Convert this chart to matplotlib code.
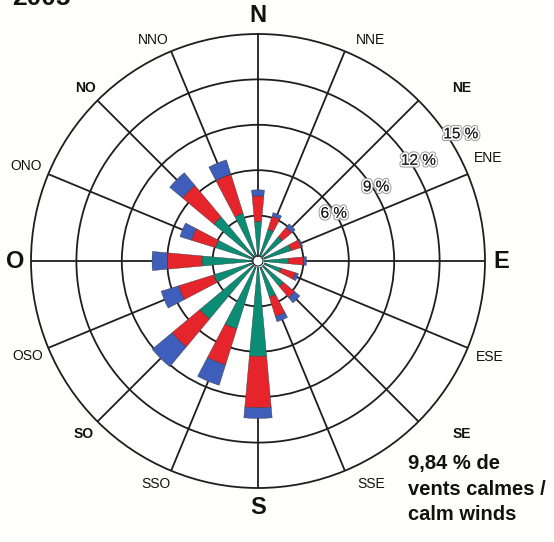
import numpy as np
import matplotlib
matplotlib.use("Agg")
import matplotlib.pyplot as plt
import matplotlib.patheffects as pe

plt.rcParams['font.family'] = ['Liberation Sans', 'DejaVu Sans']

# directions, clockwise from north
directions = ['N', 'NNE', 'NE', 'ENE', 'E', 'ESE', 'SE', 'SSE',
              'S', 'SSO', 'SO', 'OSO', 'O', 'ONO', 'NO', 'NNO']
# frequency (%) per class, stacked outward
green = [2.6, 2.2, 2.1, 2.3, 2.0, 1.6, 2.2, 2.5, 6.3, 4.7, 5.0, 3.05, 3.7, 2.95, 3.8, 3.3]
red = [1.7, 0.9, 0.8, 0.7, 1.0, 1.0, 0.95, 1.35, 3.4, 2.5, 2.4, 2.45, 2.3, 1.65, 2.7, 2.7]
blue = [0.4, 0.25, 0.3, 0.1, 0.2, 0.2, 0.45, 0.35, 0.7, 1.4, 1.7, 1.2, 1.0, 0.8, 1.1, 1.0]
ring_values = [3, 6, 9, 12, 15]
ring_labels = ['3 %', '6 %', '9 %', '12 %', '15 %']
calm_text = "9,84 % de\nvents calmes /\ncalm winds"
year = "2005"

c_green = '#0B8C74'
c_red = '#E5242B'
c_blue = '#3F5DBA'
bg = '#FEFEFC'

W, H = 554, 542
fig = plt.figure(figsize=(W / 100, H / 100), dpi=100, facecolor=bg)
cx, cy, R = 258, 261, 227
ax = fig.add_axes([(cx - R) / W, (H - cy - R) / H, 2 * R / W, 2 * R / H], projection='polar')
ax.set_facecolor('white')
ax.set_theta_zero_location('N')
ax.set_theta_direction(-1)

theta = np.deg2rad(np.arange(len(directions)) * 22.5)
width = 0.18
g = np.array(green)
r = np.array(red)
b = np.array(blue)
kw = dict(width=width, edgecolor='#3a3a3a', linewidth=0.3, zorder=3)
ax.bar(theta, g, color=c_green, **kw)
ax.bar(theta, r, bottom=g, color=c_red, **kw)
ax.bar(theta, b, bottom=g + r, color=c_blue, **kw)

# center hole
tt = np.linspace(0, 2 * np.pi, 120)
ax.fill_between(tt, 0, 0.33, color='white', zorder=4)
ax.plot(tt, np.full_like(tt, 0.33), color='#222222', lw=0.8, zorder=5)

ax.set_ylim(0, 15)
ax.set_yticks(ring_values[:-1])
ax.set_yticklabels([])
ax.set_xticks(theta)
ax.set_xticklabels([])
ax.grid(True, color='#1e1e1e', lw=1.3, zorder=0)
ax.set_axisbelow(True)
ax.spines['polar'].set_color('#1e1e1e')
ax.spines['polar'].set_linewidth(1.3)

# ring labels
halo = [pe.withStroke(linewidth=4, foreground='#9a9a9a'), pe.withStroke(linewidth=2.6, foreground='white'), pe.Normal()]
ang = np.deg2rad(58)
for val, lab in zip(ring_values[1:], ring_labels[1:]):
    ax.text(ang, val * 1.1 - 0.7, lab, fontsize=11, ha='center', va='center', color='#222222',
            path_effects=halo, zorder=6)

# direction labels, placed in figure pixels
label_xy = {'N': (258, 15), 'NNE': (370, 40), 'NE': (462, 88), 'ENE': (488, 158),
            'E': (501, 261), 'ESE': (490, 357), 'SE': (462, 434), 'SSE': (371, 484),
            'S': (258, 508), 'SSO': (156, 484), 'SO': (84, 434), 'OSO': (28, 356),
            'O': (15, 261), 'ONO': (26, 166), 'NO': (85, 88), 'NNO': (153, 40)}
big = {'N', 'E', 'S', 'O'}
bold_small = {'NE', 'SE', 'SO', 'NO'}
for d in directions:
    if d in big:
        fs, fw = 17, 'bold'
    elif d in bold_small:
        fs, fw = 10, 'bold'
    else:
        fs, fw = 10, 'normal'
    x, y = label_xy[d]
    fig.text(x / W, 1 - y / H, d, fontsize=fs, fontweight=fw, ha='center', va='center',
             color='#111111')

# multi-line text: baseline refers to the last line
fig.text(408 / W, 1 - 520 / H, calm_text, fontsize=14.5, fontweight='bold',
         ha='left', va='baseline', linespacing=1.42, color='#111111')
fig.text(12 / W, 1 - 5 / H, year, fontsize=19, fontweight='bold',
         ha='left', va='baseline', color='#111111')

fig.savefig('out.png', dpi=100, facecolor=bg)
